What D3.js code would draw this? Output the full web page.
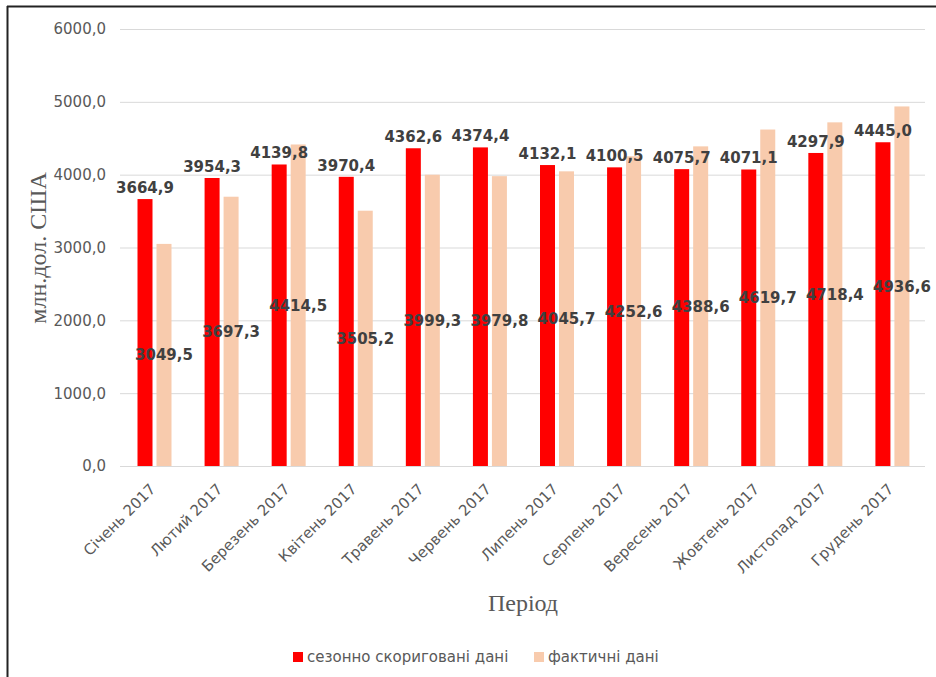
<!DOCTYPE html>
<html>
<head>
<meta charset="utf-8">
<script src="https://cdn.jsdelivr.net/npm/d3@7"></script>
<style>
  body { margin: 0; background: #fff; }
  text { font-family: "DejaVu Sans", sans-serif; }
  .serif { font-family: "Liberation Serif", "DejaVu Serif", serif; }
</style>
</head>
<body>
<div id="chart"></div>
<script>
// Chart data
const months = ["Січень 2017", "Лютий 2017", "Березень 2017", "Квітень 2017", "Травень 2017", "Червень 2017",
    "Липень 2017", "Серпень 2017", "Вересень 2017", "Жовтень 2017", "Листопад 2017", "Грудень 2017"];
const seasonal = [3664.9, 3954.3, 4139.8, 3970.4, 4362.6, 4374.4, 4132.1, 4100.5, 4075.7, 4071.1, 4297.9, 4445.0];
const actual = [3049.5, 3697.3, 4414.5, 3505.2, 3999.3, 3979.8, 4045.7, 4252.6, 4388.6, 4619.7, 4718.4, 4936.6];
const seriesNames = ["сезонно скориговані дані", "фактичні дані"];
const yTicks = [0, 1000, 2000, 3000, 4000, 5000, 6000];

const colors = ["#ff0000", "#f8cbad"];
const W = 936, H = 677;

const svg = d3.select("#chart").append("svg")
    .attr("width", W)
    .attr("height", H);

// frame (left and top edges only, as in the scan)
svg.append("line").attr("x1", 7.5).attr("x2", 7.5).attr("y1", 6).attr("y2", H)
    .attr("stroke", "#222").attr("stroke-width", 2);
svg.append("line").attr("x1", 7).attr("x2", W).attr("y1", 6.5).attr("y2", 6.5)
    .attr("stroke", "#222").attr("stroke-width", 2);

const x0 = d3.scaleBand()
    .domain(months)
    .range([120, 925]);

const x1 = d3.scaleBand()
    .domain(seriesNames)
    .range([17.5, 51.5])
    .paddingInner(0.21);

const y = d3.scaleLinear()
    .domain([0, 6000])
    .range([466, 29]);

const fmt = v => v.toFixed(1).replace(".", ",");

// gridlines + y tick labels
yTicks.forEach(t => {
    svg.append("line")
        .attr("x1", 120).attr("x2", 925)
        .attr("y1", y(t) + 0.5).attr("y2", y(t) + 0.5)
        .attr("stroke", "#d9d9d9")
        .attr("stroke-width", 1);
    svg.append("text")
        .attr("x", 106)
        .attr("y", y(t))
        .attr("dy", "0.36em")
        .attr("text-anchor", "end")
        .attr("font-size", "15px")
        .attr("fill", "#595959")
        .text(fmt(t));
});

const rows = months.map((m, i) => ({ month: m, values: [seasonal[i], actual[i]] }));

const groups = svg.selectAll("g.month")
    .data(rows)
    .join("g")
    .attr("class", "month")
    .attr("transform", d => `translate(${x0(d.month)},0)`);

groups.selectAll("rect")
    .data(d => d.values.map((v, k) => ({ key: seriesNames[k], value: v, k })))
    .join("rect")
    .attr("x", d => x1(d.key))
    .attr("width", x1.bandwidth())
    .attr("y", d => y(d.value))
    .attr("height", d => y(0) - y(d.value))
    .attr("fill", d => colors[d.k]);

// labels: seasonal above the bar, actual in the middle of the bar
groups.selectAll("text.lbl")
    .data(d => d.values.map((v, k) => ({ key: seriesNames[k], value: v, k })))
    .join("text")
    .attr("class", "lbl")
    .attr("x", d => x1(d.key) + x1.bandwidth() / 2)
    .attr("y", d => d.k === 0 ? y(d.value) - 6 : (y(d.value) + y(0)) / 2)
    .attr("dy", d => d.k === 0 ? 0 : "0.36em")
    .attr("text-anchor", "middle")
    .attr("font-size", "15px")
    .attr("font-weight", "bold")
    .attr("fill", "#404040")
    .text(d => fmt(d.value));

// x category labels
svg.selectAll("text.xlab")
    .data(months)
    .join("text")
    .attr("class", "xlab")
    .attr("transform", d => `translate(${x0(d) + x0.bandwidth() / 2 + 3},490) rotate(-45)`)
    .attr("text-anchor", "end")
    .attr("font-size", "15px")
    .attr("fill", "#595959")
    .text(d => d);

// axis titles
svg.append("text")
    .attr("class", "serif")
    .attr("transform", "translate(46,248) rotate(-90)")
    .attr("text-anchor", "middle")
    .attr("font-size", "24px")
    .attr("fill", "#595959")
    .text("млн.дол. США");

svg.append("text")
    .attr("class", "serif")
    .attr("x", 523)
    .attr("y", 611)
    .attr("text-anchor", "middle")
    .attr("font-size", "24px")
    .attr("fill", "#595959")
    .text("Період");

// legend
const legendX = [293, 534];
seriesNames.forEach((name, k) => {
    svg.append("rect")
        .attr("x", legendX[k]).attr("y", 652)
        .attr("width", 10).attr("height", 10)
        .attr("fill", colors[k]);
    svg.append("text")
        .attr("x", legendX[k] + 14)
        .attr("y", 662)
        .attr("font-size", "15px")
        .attr("fill", "#595959")
        .text(name);
});
</script>
</body>
</html>
